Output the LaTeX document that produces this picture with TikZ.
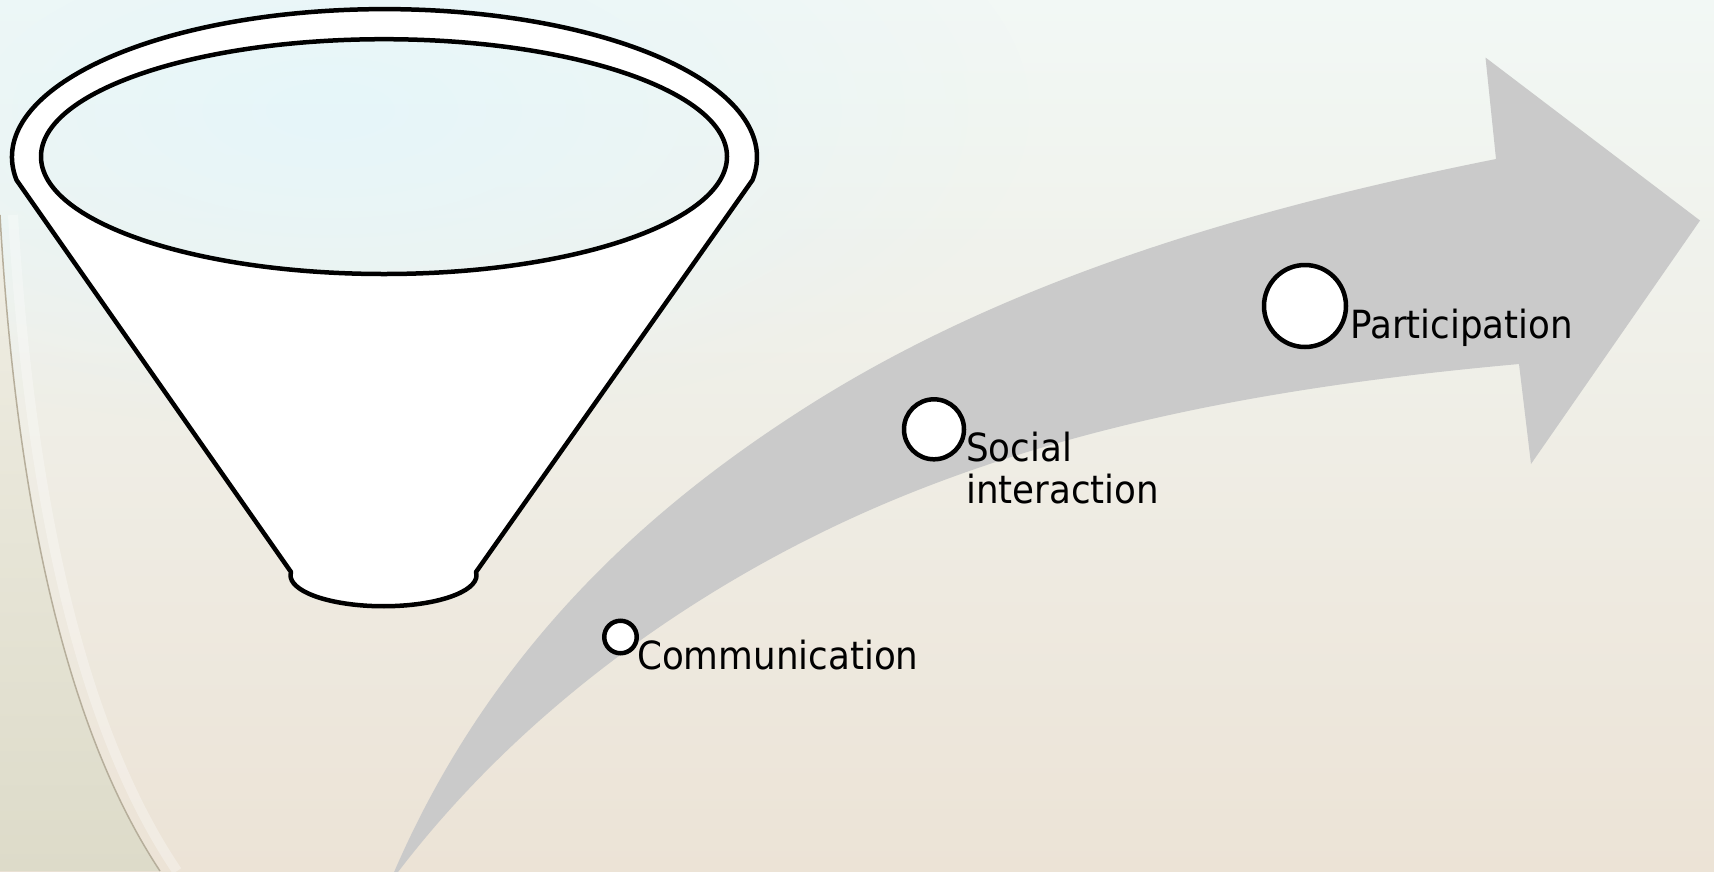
\documentclass[tikz,border=0pt]{standalone}
\usepackage{fontspec}
\newfontfamily\labelfont[FakeStretch=0.92]{DejaVu Sans}
\usetikzlibrary{fadings}
\tikzfading[name=glowfade, inner color=transparent!0, outer color=transparent!100]
\definecolor{bgtop}{RGB}{242,248,245}
\definecolor{bgmid}{RGB}{240,238,228}
\definecolor{bgbot}{RGB}{236,227,214}
\definecolor{bgcyan}{RGB}{230,246,250}
\definecolor{swoosh}{RGB}{221,219,201}
\definecolor{swline}{RGB}{182,174,155}
\definecolor{arrowgray}{RGB}{202,202,202}
\tikzset{
  funnel/.style={fill=white, draw=black, line width=4.5pt, line join=round, even odd rule},
  stage/.style={circle, fill=white, draw=black, line width=4.5pt, inner sep=0pt},
  stagelabel/.style={font=\labelfont\fontsize{38.8}{41.7}\selectfont, inner sep=0pt, anchor=base west, align=left, text=black},
}
\begin{document}
\begin{tikzpicture}[x=1pt,y=-1pt]
\useasboundingbox (0,0) rectangle (1714,871);
\clip (0,0) rectangle (1714,871);
% background
\shade[top color=bgtop, middle color=bgmid, bottom color=bgbot] (0,0) rectangle (1714,871);
\fill[bgcyan, path fading=glowfade] (330,110) ellipse [x radius=700, y radius=320];
\shade[top color=bgmid, bottom color=swoosh] (0,215) .. controls (15,480) and (60,720) .. (160,871) -- (0,871) -- cycle;
\draw[white, opacity=0.3, line width=10pt] (13,215) .. controls (29,480) and (75,720) .. (177,871);
\draw[swline, line width=1.5pt] (0,215) .. controls (15,480) and (60,720) .. (160,871);
% curved arrow
\fill[arrowgray] (389,884) .. controls (489,644) and (657,503) .. (800,411)
  .. controls (1006,278) and (1256,207) .. (1496,159)
  -- (1485.5,57.5) -- (1700,220.5) -- (1531,464) -- (1519,364)
  .. controls (1291,384.6) and (1058,423.3) .. (850,519)
  .. controls (672,600.9) and (505.6,726.4) .. (389,884) -- cycle;
% funnel
\path[funnel] (16.5,180) arc[start angle=171.1, end angle=368.9, x radius=372.5, y radius=148]
  -- (476,572) arc[start angle=-6, end angle=186, x radius=93, y radius=31] -- cycle
  (384,156.6) ellipse [x radius=343, y radius=117.4];
% stages
\node[stage, minimum size=32.5pt] (c1) at (620.5,637) {};
\node[stage, minimum size=60pt] (c2) at (934,429.3) {};
\node[stage, minimum size=82pt] (c3) at (1305,306) {};
\node[stagelabel] (l1) at (637,669) {Communication};
\node[stagelabel] (l2) at (966,503.3) {Social\\interaction};
\node[stagelabel] (l3) at (1350,338.3) {Participation};
\end{tikzpicture}
\end{document}
